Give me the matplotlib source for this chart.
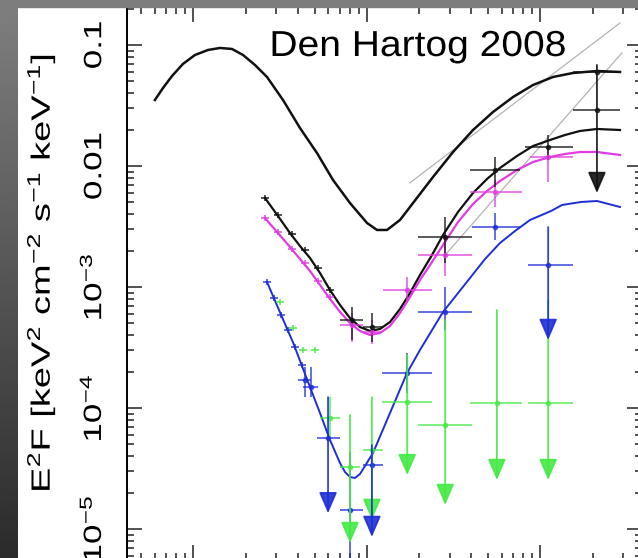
import numpy as np
import matplotlib
matplotlib.use("Agg")
import matplotlib.pyplot as plt
from matplotlib.patches import Rectangle
from matplotlib.transforms import Affine2D
from matplotlib.patheffects import AbstractPathEffect

plt.rcParams['font.family'] = ['Liberation Sans', 'DejaVu Sans']
plt.rcParams['mathtext.fontset'] = 'custom'
plt.rcParams['mathtext.rm'] = 'Liberation Sans'
plt.rcParams['mathtext.it'] = 'Liberation Sans:italic'
plt.rcParams['mathtext.default'] = 'regular'

# ---------------- model curves (E in keV, E^2F) ----------------
total_E = [0.601, 0.669, 0.754, 0.872, 1.023, 1.215, 1.425, 1.671, 1.934, 2.268,
           2.660, 3.289, 4.121, 5.164, 6.388, 8.003, 10.03, 11.45, 13.08, 15.54,
           18.46, 24.08, 31.40, 40.94, 53.39, 69.62, 90.78, 118.4, 154.3, 212.3, 288.0]
total_F = [0.0351, 0.0441, 0.0554, 0.0697, 0.0827, 0.0909, 0.0945, 0.0927, 0.0827,
           0.0683, 0.0544, 0.0351, 0.0206, 0.0128, 0.00766, 0.00494, 0.00338,
           0.00296, 0.00296, 0.00358, 0.00494, 0.00811, 0.01305, 0.01983, 0.02795,
           0.03716, 0.0467, 0.0544, 0.0587, 0.06095, 0.05981]

pulsed_E = [2.590, 3.077, 3.609, 4.121, 4.706, 5.374, 6.137, 7.008, 8.003, 9.138,
            10.43, 11.92, 13.61, 15.54, 17.74, 20.26, 23.76, 27.50, 33.55, 40.94,
            49.30, 58.57, 73.40, 90.78, 113.7, 138.8, 169.3, 212.3, 288.0]
pulsed_F = [0.00544, 0.00386, 0.00279, 0.00218, 0.001737, 0.001305, 0.000944,
            0.000710, 0.000554, 0.000467, 0.000433, 0.000450, 0.000514, 0.000658,
            0.000892, 0.001257, 0.001839, 0.00269, 0.00417, 0.00598, 0.00781,
            0.00963, 0.01210, 0.01463, 0.01640, 0.01804, 0.01947, 0.02022, 0.01983]

mag_model_F = [0.003717, 0.00279, 0.002141, 0.001703, 0.001356, 0.001039, 0.000796,
               0.000622, 0.000504, 0.000433, 0.000401, 0.000417, 0.000476, 0.000610,
               0.000827, 0.001143, 0.001609, 0.002224, 0.003445, 0.004853, 0.006215,
               0.007516, 0.009267, 0.01079, 0.01187, 0.01257, 0.01305, 0.01305,
               0.01233]

blue_model_E = [2.660, 3.172, 3.771, 4.541, 5.374, 6.137, 7.008, 7.487, 8.003, 8.551,
                9.138, 10.86, 13.08, 17.05, 20.26, 27.50, 39.34, 48.02, 58.57, 71.49,
                87.22, 115.3, 133.4, 171.6, 212.3, 288.0]
blue_model_F = [0.001100, 0.000610, 0.000344, 0.0001703, 0.0000909, 0.0000544,
                0.0000351, 0.0000296, 0.0000269, 0.0000264, 0.0000285, 0.0000425,
                0.0000796, 0.0001947, 0.000302, 0.000622, 0.001187, 0.001703,
                0.002310, 0.002903, 0.003579, 0.004247, 0.004761, 0.005042,
                0.005136, 0.004583]

# thin grey power-law guides
pl1_E = [17.7, 288]
pl1_F = [0.00725, 0.152]
pl2_E = [28.3, 295]
pl2_F = [0.00184, 0.0859]

# ---------------- soft X-ray data (small crosses) ----------------
black_soft_E = [2.59, 3.08, 3.70, 4.40, 5.23, 6.14]
black_soft_F = [0.00545, 0.00394, 0.00274, 0.00202, 0.00144, 0.000944]
mag_soft_E = [2.59, 3.08, 3.70, 4.40, 5.23, 6.14]
mag_soft_F = [0.00372, 0.00285, 0.00206, 0.00158, 0.00112, 0.000826]
blue_soft_E = [2.66, 2.92, 3.20, 3.51, 3.86, 4.23]
blue_soft_F = [0.00110, 0.000811, 0.000588, 0.000441, 0.000319, 0.000227]
green_soft_E = [3.16, 3.76, 4.29, 5.03]
green_soft_F = [0.000752, 0.000458, 0.000301, 0.000301]

# ---------------- data with error bars ----------------
black_E = [8.22, 10.7, 28.3, 54.8, 111, 212, 212]
black_Elo = [7.0, 9.5, 19.7, 39.4, 81.5, 154, 154]
black_Ehi = [9.5, 12.2, 40.4, 76.4, 154, 288, 288]
black_F = [0.000533, 0.000467, 0.00259, 0.00927, 0.01435, 0.0598, 0.0290]
black_Flo = [0.000365, 0.000349, 0.00158, 0.0067, 0.0112, 0.0598, 0.0290]
black_Fhi = [0.000684, 0.00061, 0.00379, 0.01186, 0.0180, 0.0598, 0.0290]

mag_E = [8.22, 10.7, 17.1, 28.3, 54.8, 111]
mag_Elo = [7.0, 9.5, 12.4, 19.7, 39.4, 87.3]
mag_Ehi = [9.5, 12.2, 23.8, 40.4, 78.0, 154]
mag_F = [0.000485, 0.000425, 0.000944, 0.00184, 0.0061, 0.01186]
mag_Flo = [0.000351, 0.000335, 0.000738, 0.00123, 0.00458, 0.00738]
mag_Fhi = [0.00061, 0.000533, 0.00121, 0.0028, 0.00766, 0.01435]

blue_E = [4.38, 4.74, 8.0, 17.1, 28.3, 54.8]
blue_Elo = [4.0, 4.3, 7.01, 12.3, 19.7, 40.4]
blue_Ehi = [4.8, 5.2, 9.51, 23.8, 40.4, 76.4]
blue_F = [0.00017, 0.00015, 0.0000144, 0.000195, 0.000621, 0.00313]
blue_Flo = [0.000123, 0.000123, 0.000003, 0.000133, 0.000441, 0.00244]
blue_Fhi = [0.000218, 0.000218, 0.0000433, 0.000285, 0.001, 0.00409]

green_E = [6.14]
green_Elo = [5.37]
green_Ehi = [7.01]
green_F = [0.0000826]
green_Flo = [0.0000544]
green_Fhi = [0.000123]

# ---------------- upper limits (bar + arrow) ----------------
black_ul_E = [212]
black_ul_top = [0.0684]
black_ul_tip = [0.00598]

blue_ul_E = [111, 5.98, 10.7]
blue_ul_Elo = [85, 5.16, 9.51]
blue_ul_Ehi = [154, 7.01, 12.4]
blue_ul_F = [0.00152, 0.0000565, 0.0000338]
blue_ul_top = [0.00313, 0.000123, 0.0000494]
blue_ul_tip = [0.000365, 0.0000135, 0.0000086]

green_ul_E = [8.0, 10.7, 17.1, 28.3, 56.2, 111]
green_ul_Elo = [7.01, 9.51, 12.3, 19.7, 39.4, 85]
green_ul_Ehi = [9.14, 12.4, 23.8, 40.4, 78, 154]
green_ul_F = [0.0000325, 0.000045, 0.000112, 0.0000725, 0.00011, 0.00011]
green_ul_top = [0.0000875, 0.000123, 0.000274, 0.000533, 0.000646, 0.00078]
green_ul_tip = [0.00000766, 0.0000119, 0.0000279, 0.0000158, 0.0000254, 0.0000254]

ytick_vals = [1e-5, 1e-4, 1e-3, 1e-2, 1e-1]
ytick_labels = ['10$^{-5}$', '10$^{-4}$', '10$^{-3}$', '0.01', '0.1']

BLACK = '#111111'
MAGENTA = '#e13ce1'
BLUE = '#1e2ed6'
GREEN = '#45ea45'


class Stretch(AbstractPathEffect):
    """Stretch text along its own direction (the original labels are elongated)."""
    def __init__(self, sx):
        super().__init__()
        self.sx = sx

    def draw_path(self, renderer, gc, tpath, affine, rgbFace=None):
        ext = tpath.get_extents()
        cx = 0.5 * (ext.x0 + ext.x1)
        t = Affine2D().translate(-cx, 0).scale(self.sx, 1).translate(cx, 0) + affine
        renderer.draw_path(gc, tpath, t, rgbFace)


W, H = 638, 558
fig = plt.figure(figsize=(W / 100, H / 100), dpi=100, facecolor='white')

# slide background: dark gradient strip on the left, grey band on top
ax_bg = fig.add_axes([0, 0, 18 / W, 1])
ax_bg.imshow(np.linspace(0.50, 0.17, 200)[:, None], cmap='gray', vmin=0, vmax=1,
             aspect='auto')
ax_bg.axis('off')
fig.add_artist(Rectangle((0, 1 - 6.5 / H), 1, 6.5 / H, transform=fig.transFigure,
                         color='#7d7d7d', zorder=10))

ax = fig.add_axes([127 / W, -2 / H, 515 / W, 553 / H])
ax.set_xscale('log')
ax.set_yscale('log')
ax.set_xlim(0.415, 385.5)
ax.set_ylim(5.546e-6, 0.206)

# models
ax.plot(pl1_E, pl1_F, color='#b4b4b4', lw=0.9, zorder=1)
ax.plot(pl2_E, pl2_F, color='#b4b4b4', lw=0.9, zorder=1)
ax.plot(total_E, total_F, color=BLACK, lw=1.8, zorder=3)
ax.plot(pulsed_E, pulsed_F, color=BLACK, lw=1.6, zorder=3)
ax.plot(pulsed_E, mag_model_F, color=MAGENTA, lw=1.6, zorder=3)
ax.plot(blue_model_E, blue_model_F, color=BLUE, lw=1.4, zorder=3)


def soft(E, F, color):
    E = np.array(E)
    F = np.array(F)
    d = 10 ** 0.025
    ax.errorbar(E, F, xerr=[E - E / d, E * d - E], yerr=[F - F / d, F * d - F],
                fmt='none', ecolor=color, elinewidth=1.2, alpha=0.85, zorder=4)


def points(E, Elo, Ehi, F, Flo, Fhi, color):
    E, Elo, Ehi = np.array(E), np.array(Elo), np.array(Ehi)
    F, Flo, Fhi = np.array(F), np.array(Flo), np.array(Fhi)
    ax.errorbar(E, F, xerr=[E - Elo, Ehi - E], yerr=[F - Flo, Fhi - F],
                fmt='o', ms=3, color=color, ecolor=color, elinewidth=1.3,
                capsize=0, alpha=0.75, zorder=4)


def limits(E, top, tip, color):
    for e, a, b in zip(E, top, tip):
        ax.annotate('', xy=(e, b), xytext=(e, a),
                    arrowprops=dict(arrowstyle='-|>,head_length=0.65,head_width=0.28',
                                    color=color, lw=1.3, shrinkA=0, shrinkB=0,
                                    mutation_scale=20, alpha=0.9),
                    zorder=5)


soft(black_soft_E, black_soft_F, BLACK)
soft(mag_soft_E, mag_soft_F, MAGENTA)
soft(blue_soft_E, blue_soft_F, BLUE)
soft(green_soft_E, green_soft_F, GREEN)

points(green_E, green_Elo, green_Ehi, green_F, green_Flo, green_Fhi, GREEN)
points(green_ul_E, green_ul_Elo, green_ul_Ehi, green_ul_F, green_ul_F, green_ul_F, GREEN)
limits(green_ul_E, green_ul_top, green_ul_tip, GREEN)

points(blue_E, blue_Elo, blue_Ehi, blue_F, blue_Flo, blue_Fhi, BLUE)
points(blue_ul_E, blue_ul_Elo, blue_ul_Ehi, blue_ul_F, blue_ul_F, blue_ul_F, BLUE)
limits(blue_ul_E, blue_ul_top, blue_ul_tip, BLUE)

points(mag_E, mag_Elo, mag_Ehi, mag_F, mag_Flo, mag_Fhi, MAGENTA)
points(black_E, black_Elo, black_Ehi, black_F, black_Flo, black_Fhi, BLACK)
limits(black_ul_E, black_ul_top, black_ul_tip, BLACK)

# axes styling
ax.set_xticks([1, 10, 100])
ax.set_yticks(ytick_vals, ytick_labels)
ax.tick_params(which='both', direction='in', top=True, right=True, width=1.1,
               color='#222222', labelbottom=False)
ax.tick_params(which='major', length=10.8)
ax.tick_params(which='minor', length=5)
ax.tick_params(axis='y', labelsize=18, pad=15)
for lab in ax.get_yticklabels():
    lab.set_rotation(90)
    lab.set_va('center')
    lab.set_path_effects([Stretch(1.4)])
for s in ax.spines.values():
    s.set_linewidth(1.4)

fig.text(41 / W, 1 - 273 / H,
         r'E$^2$F [keV$^2$ cm$^{-2}$ s$^{-1}$ keV$^{-1}$]',
         rotation=90, ha='center', va='center', fontsize=19,
         path_effects=[Stretch(1.44)])

fig.text(418 / W, 1 - 56 / H, 'Den Hartog 2008', ha='center', va='baseline',
         fontsize=26, path_effects=[Stretch(1.08)])

fig.savefig('out.png', dpi=100)
